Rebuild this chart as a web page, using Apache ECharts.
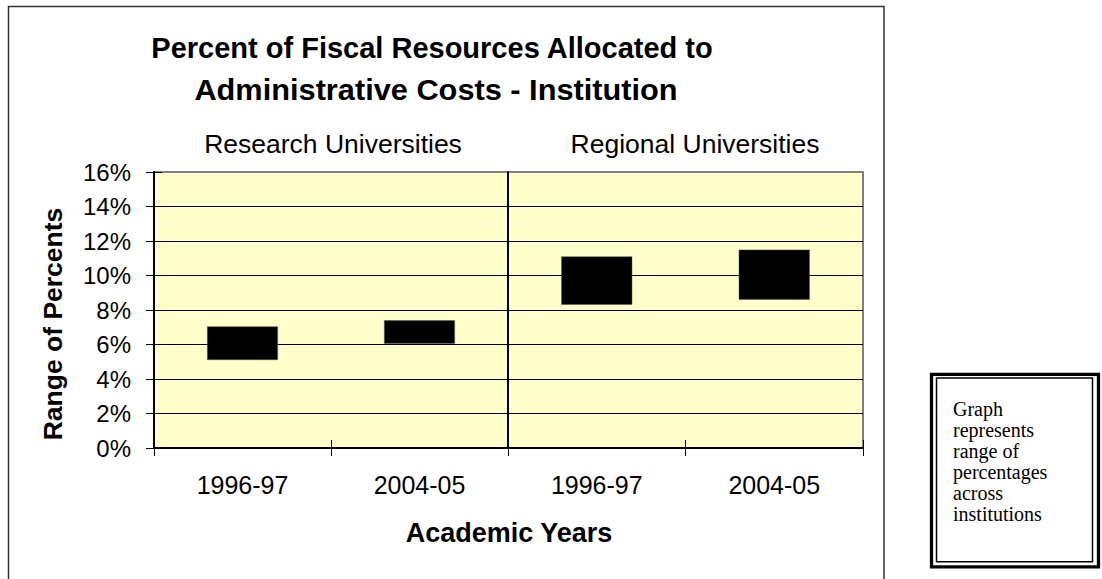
<!DOCTYPE html>
<html>
<head>
<meta charset="utf-8">
<script src="https://cdn.jsdelivr.net/npm/echarts@6/dist/echarts.min.js"></script>
<style>
  html, body { margin: 0; padding: 0; background: #fff; }
  #chart { width: 1102px; height: 579px; }
</style>
</head>
<body>
<div id="chart"></div>
<script>
// Academic years shown for each university group
const categories = ['1996-97', '2004-05'];
const groups = ['Research Universities', 'Regional Universities'];

// Low and high ends of the range of percents (per cent)
const researchLow = [5.1, 6.05];
const researchHigh = [7.05, 7.4];
const regionalLow = [8.3, 8.6];
const regionalHigh = [11.1, 11.5];

// Value axis
const yMin = 0;
const yMax = 16;
const yStep = 2;
const yTickSuffix = '%';

const titleLines = ['Percent of Fiscal Resources Allocated to', 'Administrative Costs - Institution'];
const yAxisTitle = 'Range of Percents';
const xAxisTitle = 'Academic Years';
const noteLines = ['Graph', 'represents', 'range of', 'percentages', 'across', 'institutions'];

const SANS = '"Liberation Sans", Arial, sans-serif';
const SERIF = '"Liberation Serif", "Times New Roman", serif';

const chart = echarts.init(document.getElementById('chart'), null, { renderer: 'svg' });

const gridTop = 172;
const gridHeight = 276;
const grids = [
  { left: 154, top: gridTop, width: 354, height: gridHeight },
  { left: 508, top: gridTop, width: 355, height: gridHeight }
];

function gridOpt(g) {
  return Object.assign({
    show: true,
    backgroundColor: '#FFFFCC',
    borderColor: '#808080',
    borderWidth: 2,
    containLabel: false
  }, g);
}

// Main category axis (outward ticks + labels) and a twin carrying the inner half of each tick
function xAxesFor(gridIndex) {
  return [
    {
      type: 'category', gridIndex, position: 'bottom', data: categories,
      axisLine: { show: true, lineStyle: { color: '#000', width: 2 } },
      axisTick: { show: true, length: 8, lineStyle: { color: '#000', width: 1 } },
      axisLabel: { color: '#000', fontFamily: SANS, fontSize: 25, margin: 24 },
      splitLine: { show: false }
    },
    {
      type: 'category', gridIndex, position: 'bottom', data: categories,
      axisLine: { show: false },
      axisTick: { show: true, inside: true, length: 8, lineStyle: { color: '#000', width: 1 } },
      axisLabel: { show: false },
      splitLine: { show: false }
    }
  ];
}

const yBase = { type: 'value', min: yMin, max: yMax, interval: yStep };

const option = {
  animation: false,
  grid: grids.map(gridOpt),
  xAxis: [...xAxesFor(0), ...xAxesFor(1)],
  yAxis: [
    Object.assign({}, yBase, {
      gridIndex: 0, position: 'left',
      axisLine: { show: true, lineStyle: { color: '#000', width: 2 } },
      axisTick: { show: true, length: 8, lineStyle: { color: '#000', width: 1 } },
      axisLabel: { color: '#000', fontFamily: SANS, fontSize: 24, margin: 23, formatter: v => v + yTickSuffix },
      splitLine: { show: true, showMaxLine: false, lineStyle: { color: '#000', width: 1 } }
    }),
    Object.assign({}, yBase, {
      gridIndex: 0, position: 'left',
      axisLine: { show: false },
      axisTick: { show: true, inside: true, length: 8, lineStyle: { color: '#000', width: 1 } },
      axisLabel: { show: false },
      splitLine: { show: false }
    }),
    Object.assign({}, yBase, {
      gridIndex: 1, position: 'left',
      axisLine: { show: true, lineStyle: { color: '#000', width: 2 } },
      axisTick: { show: false },
      axisLabel: { show: false },
      splitLine: { show: true, showMaxLine: false, lineStyle: { color: '#000', width: 1 } }
    })
  ],
  series: [
    // Research universities: invisible base up to the low end, black bar for the range
    {
      type: 'bar', xAxisIndex: 0, yAxisIndex: 0, stack: 'research', barWidth: '40%',
      data: researchLow, itemStyle: { color: 'transparent' }, silent: true
    },
    {
      type: 'bar', xAxisIndex: 0, yAxisIndex: 0, stack: 'research', barWidth: '40%',
      data: researchHigh.map((h, i) => h - researchLow[i]),
      itemStyle: { color: '#000', borderColor: '#555', borderWidth: 0.5 }
    },
    // Regional universities
    {
      type: 'bar', xAxisIndex: 2, yAxisIndex: 2, stack: 'regional', barWidth: '40%',
      data: regionalLow, itemStyle: { color: 'transparent' }, silent: true
    },
    {
      type: 'bar', xAxisIndex: 2, yAxisIndex: 2, stack: 'regional', barWidth: '40%',
      data: regionalHigh.map((h, i) => h - regionalLow[i]),
      itemStyle: { color: '#000', borderColor: '#555', borderWidth: 0.5 }
    }
  ],
  graphic: [
    // Chart frame
    {
      type: 'rect', silent: true, z: -10,
      shape: { x: 8.5, y: 6.5, width: 875.5, height: 640 },
      style: { fill: 'none', stroke: '#333', lineWidth: 1.5 }
    },
    // Title
    {
      type: 'text', x: 432, y: 48, silent: true,
      style: { text: titleLines[0], font: 'bold 29px ' + SANS, fill: '#000', align: 'center', verticalAlign: 'middle' }
    },
    {
      type: 'text', x: 436, y: 90, scaleX: 1.06, silent: true,
      style: { text: titleLines[1], font: 'bold 29px ' + SANS, fill: '#000', align: 'center', verticalAlign: 'middle' }
    },
    // Group headers
    {
      type: 'text', x: 333, y: 144, silent: true,
      style: { text: groups[0], font: '26.5px ' + SANS, fill: '#000', align: 'center', verticalAlign: 'middle' }
    },
    {
      type: 'text', x: 695, y: 144, silent: true,
      style: { text: groups[1], font: '26.5px ' + SANS, fill: '#000', align: 'center', verticalAlign: 'middle' }
    },
    // Axis titles
    {
      type: 'text', x: 53, y: 324, rotation: Math.PI / 2, silent: true,
      style: { text: yAxisTitle, font: 'bold 26.5px ' + SANS, fill: '#000', align: 'center', verticalAlign: 'middle' }
    },
    {
      type: 'text', x: 509, y: 533, silent: true,
      style: { text: xAxisTitle, font: 'bold 27px ' + SANS, fill: '#000', align: 'center', verticalAlign: 'middle' }
    },
    // Note box with double border
    {
      type: 'rect', silent: true,
      shape: { x: 931.5, y: 374.3, width: 167, height: 192.5 },
      style: { fill: '#fff', stroke: '#000', lineWidth: 3.3 }
    },
    {
      type: 'rect', silent: true,
      shape: { x: 936.5, y: 378, width: 156, height: 183.7 },
      style: { fill: 'none', stroke: '#000', lineWidth: 1.5 }
    },
    {
      type: 'text', x: 953, y: 398, silent: true,
      style: { text: noteLines.join('\n'), font: '20px ' + SERIF, lineHeight: 21, fill: '#000', align: 'left', verticalAlign: 'top' }
    }
  ]
};

chart.setOption(option);
</script>
</body>
</html>
